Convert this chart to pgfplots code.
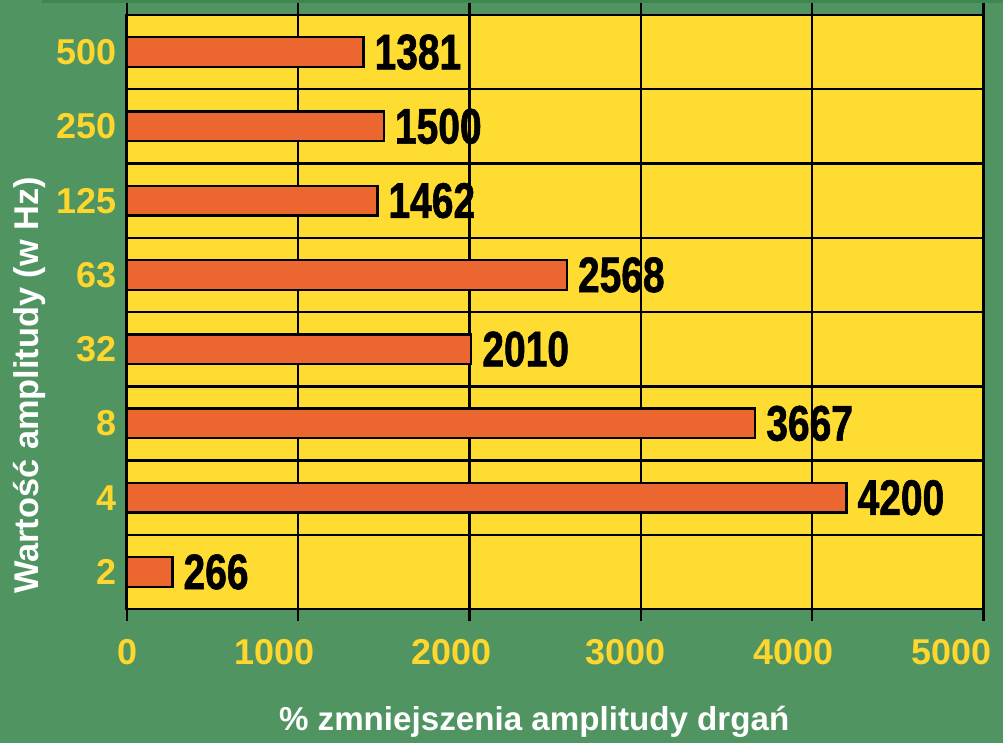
\documentclass[border=0pt]{standalone}
\usepackage{pgfplots}
\pgfplotsset{compat=1.18}
\usepackage{pgfplotstable}
\usepackage{fontspec}
\setmainfont{Liberation Sans}
\newfontfamily\valfont[FakeStretch=0.78,FakeBold=1.2]{Liberation Sans}
\definecolor{bg}{RGB}{80,148,98}
\definecolor{topline}{RGB}{62,136,80}
\definecolor{plotyellow}{RGB}{255,220,50}
\definecolor{barorange}{RGB}{236,102,48}
\definecolor{ticky}{RGB}{255,214,45}
\pgfplotstableread{
y x lab
0 266 266
1 4200 4200
2 3667 3667
3 2010 2010
4 2568 2568
5 1462 1462
6 1500 1500
7 1381 1381
}\datatab
\begin{document}
\begin{tikzpicture}[x=1pt,y=1pt]
\fill[bg] (-63.5,-67) rectangle (438.5,305);
\draw[topline, line width=1.5pt] (-42.5,304) -- (438.5,304);
\begin{axis}[
  at={(0,0)}, anchor=south west,
  width=429pt, height=297.5pt, scale only axis,
  xmin=0, xmax=5000, ymin=-0.5, ymax=7.5,
  xbar, bar width=0.4,
  axis background/.style={fill=plotyellow},
  xtick={0,1000,2000,3000,4000,5000},
  xticklabels={\hspace*{1pt}0,\hspace*{-24pt}1000,\hspace*{-18pt}2000,\hspace*{-15pt}3000,\hspace*{-19pt}4000,\hspace*{-32pt}5000},
  ytick={0,1,2,3,4,5,6,7},
  yticklabels={2,4,8,32,63,125,250,500},
  minor ytick={0.5,1.5,2.5,3.5,4.5,5.5,6.5},
  xmajorgrids=true, yminorgrids=true,
  grid style={black, line width=1.25pt},
  minor grid style={black, line width=1.25pt},
  axis line style={black, line width=1.4pt},
  tick align=outside, major tick length=6pt, minor tick length=0pt,
  xtick style={black, line width=1.1pt},
  ytick style={draw=none},
  xticklabel style={font=\fontsize{18}{18}\selectfont\bfseries, text=ticky, inner sep=0pt, yshift=-9pt},
  yticklabel style={font=\fontsize{18}{18}\selectfont\bfseries, text=ticky, inner sep=0pt, xshift=1pt},
  xlabel={\% zmniejszenia amplitudy drgań},
  ylabel={Wartość amplitudy (w Hz)},
  xlabel style={font=\fontsize{16.6}{16.6}\selectfont\bfseries, text=white, at={(axis description cs:0.4755,-0.19)}, anchor=center},
  ylabel style={font=\fontsize{17.2}{17.2}\selectfont\bfseries, text=white, at={(axis description cs:-0.1142,0.3765)}, anchor=center},
  point meta=explicit symbolic,
  nodes near coords,
  nodes near coords style={font=\valfont\fontsize{25}{25}\selectfont\bfseries, text=black, anchor=west, inner sep=0pt, xshift=5pt},
  clip=false,
]
\addplot[fill=barorange, draw=black, line width=1.2pt] table[x=x, y=y, meta=lab] {\datatab};
\end{axis}
\end{tikzpicture}
\end{document}
